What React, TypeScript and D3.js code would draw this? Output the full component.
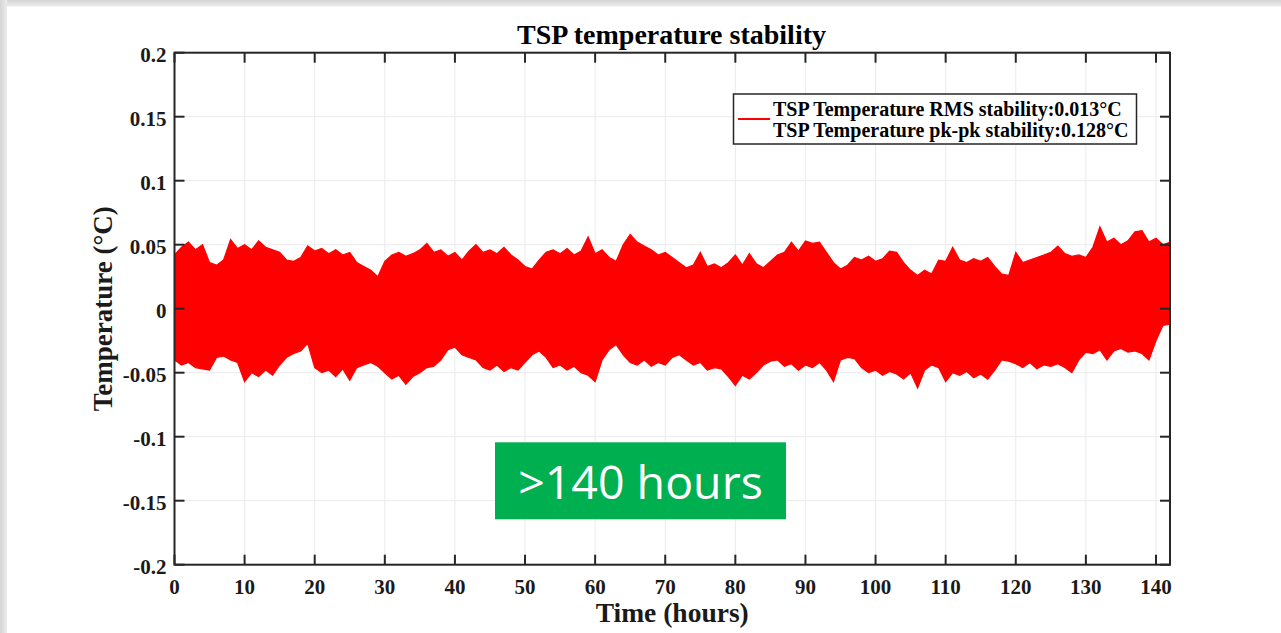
import React from "react";
import * as d3 from "d3";

// Envelope of the temperature signal, one reading per hour (0..142 h), in °C
const upperEnvelope = [
  0.042, 0.048, 0.052, 0.046, 0.05, 0.036, 0.034, 0.038, 0.054, 0.047,
  0.05, 0.046, 0.053, 0.048, 0.046, 0.044, 0.038, 0.037, 0.04, 0.049,
  0.045, 0.047, 0.043, 0.046, 0.042, 0.044, 0.036, 0.033, 0.03, 0.025,
  0.037, 0.042, 0.044, 0.041, 0.043, 0.046, 0.051, 0.044, 0.046, 0.041,
  0.044, 0.038, 0.045, 0.05, 0.044, 0.046, 0.043, 0.048, 0.042, 0.038,
  0.033, 0.031, 0.038, 0.044, 0.046, 0.043, 0.047, 0.042, 0.045, 0.056,
  0.043, 0.046, 0.04, 0.037, 0.05, 0.058, 0.052, 0.049, 0.046, 0.042,
  0.044, 0.04, 0.036, 0.032, 0.034, 0.044, 0.033, 0.035, 0.032, 0.036,
  0.042, 0.034, 0.043, 0.035, 0.032, 0.037, 0.042, 0.044, 0.052, 0.045,
  0.053, 0.051, 0.052, 0.044, 0.036, 0.031, 0.034, 0.04, 0.038, 0.041,
  0.037, 0.039, 0.045, 0.044, 0.036, 0.03, 0.026, 0.03, 0.027, 0.038,
  0.037, 0.048, 0.038, 0.036, 0.039, 0.037, 0.04, 0.033, 0.027, 0.026,
  0.044, 0.036, 0.038, 0.04, 0.042, 0.044, 0.049, 0.043, 0.041, 0.042,
  0.04, 0.048, 0.064, 0.052, 0.055, 0.05, 0.053, 0.06, 0.061, 0.052,
  0.055, 0.05, 0.052,
];

const lowerEnvelope = [
  -0.04, -0.044, -0.042, -0.046, -0.047, -0.048, -0.038, -0.037, -0.04, -0.042,
  -0.057, -0.05, -0.053, -0.048, -0.052, -0.044, -0.038, -0.035, -0.033, -0.027,
  -0.046, -0.05, -0.048, -0.053, -0.047, -0.056, -0.046, -0.044, -0.042, -0.045,
  -0.05, -0.055, -0.052, -0.059, -0.053, -0.05, -0.046, -0.045, -0.04, -0.032,
  -0.03, -0.036, -0.038, -0.04, -0.046, -0.048, -0.044, -0.049, -0.046, -0.048,
  -0.042, -0.036, -0.033, -0.038, -0.046, -0.044, -0.048, -0.045, -0.05, -0.052,
  -0.057, -0.04, -0.032, -0.028, -0.036, -0.042, -0.044, -0.04, -0.045, -0.042,
  -0.044, -0.038, -0.036, -0.04, -0.044, -0.042, -0.048, -0.046, -0.047, -0.053,
  -0.06, -0.052, -0.055, -0.05, -0.044, -0.041, -0.04, -0.045, -0.043, -0.048,
  -0.044, -0.046, -0.042, -0.048, -0.057, -0.04, -0.038, -0.039, -0.046, -0.05,
  -0.048, -0.052, -0.049, -0.051, -0.055, -0.05, -0.062, -0.048, -0.044, -0.046,
  -0.057, -0.05, -0.052, -0.049, -0.054, -0.051, -0.055, -0.048, -0.04, -0.041,
  -0.043, -0.046, -0.042, -0.047, -0.044, -0.045, -0.043, -0.046, -0.05, -0.04,
  -0.034, -0.035, -0.032, -0.04, -0.033, -0.031, -0.034, -0.033, -0.035, -0.04,
  -0.025, -0.013, -0.012,
];

const xTicks = [0, 10, 20, 30, 40, 50, 60, 70, 80, 90, 100, 110, 120, 130, 140];
const yTicks = [0.2, 0.15, 0.1, 0.05, 0, -0.05, -0.1, -0.15, -0.2];
const yTickLabels = ["0.2", "0.15", "0.1", "0.05", "0", "-0.05", "-0.1", "-0.15", "-0.2"];

const titleText = "TSP temperature stability";
const xLabel = "Time (hours)";
const yLabel = "Temperature (°C)";
const legendLines = [
  "TSP Temperature RMS stability:0.013°C",
  "TSP Temperature pk-pk stability:0.128°C",
];
const badgeText = ">140 hours";

const W = 1281;
const H = 633;
const L = 174.5;
const R = 1170;
const T = 52.7;
const B = 564.7;

export default function App() {
  const x = d3.scaleLinear().domain([0, 142]).range([L, R]);
  const y = d3.scaleLinear().domain([-0.2, 0.2]).range([B, T]);

  const pts = upperEnvelope.map((u, i) => ({ t: i, hi: u, lo: lowerEnvelope[i] }));
  const area = d3
    .area<{ t: number; hi: number; lo: number }>()
    .x((d) => x(d.t))
    .y0((d) => y(d.lo))
    .y1((d) => y(d.hi));

  const serif = "'Liberation Serif', 'Times New Roman', serif";
  const axisColor = "#262626";

  return (
    <div style={{ position: "absolute", left: 0, top: 0, width: W, height: H }}>
      <svg width={W} height={H} style={{ display: "block" }}>
        <defs>
          <linearGradient id="topShade" x1="0" y1="0" x2="0" y2="1">
            <stop offset="0" stopColor="#d4d4d4" />
            <stop offset="1" stopColor="#ececec" />
          </linearGradient>
          <linearGradient id="leftShade" x1="0" y1="0" x2="1" y2="0">
            <stop offset="0" stopColor="#d4d4d4" />
            <stop offset="1" stopColor="#ececec" />
          </linearGradient>
          <clipPath id="plotClip">
            <rect x={L} y={T} width={R - L} height={B - T} />
          </clipPath>
        </defs>
        <rect x={0} y={0} width={W} height={H} fill="#ffffff" />
        <rect x={0} y={0} width={W} height={6.5} fill="url(#topShade)" />
        <rect x={0} y={0} width={7} height={H} fill="url(#leftShade)" />

        {/* grid */}
        {xTicks.map((t) => (
          <line key={"gx" + t} x1={x(t)} x2={x(t)} y1={T} y2={B} stroke="#ebebeb" strokeWidth={1} />
        ))}
        {yTicks.map((v) => (
          <line key={"gy" + v} x1={L} x2={R} y1={y(v)} y2={y(v)} stroke="#ebebeb" strokeWidth={1} />
        ))}

        {/* data */}
        <g clipPath="url(#plotClip)">
          <path d={area(pts) || ""} fill="#ff0000" stroke="#ff0000" strokeWidth={1.2} strokeLinejoin="miter" />
        </g>

        {/* axes box */}
        <rect x={L} y={T} width={R - L} height={B - T} fill="none" stroke={axisColor} strokeWidth={2} />
        {xTicks.map((t) => (
          <g key={"tx" + t}>
            <line x1={x(t)} x2={x(t)} y1={B} y2={B - 10} stroke={axisColor} strokeWidth={2} />
            <line x1={x(t)} x2={x(t)} y1={T} y2={T + 10} stroke={axisColor} strokeWidth={2} />
            <text
              x={x(t)}
              y={594}
              textAnchor="middle"
              fontFamily={serif}
              fontWeight="bold"
              fontSize={21}
              fill="#1a1a1a"
            >
              {String(t)}
            </text>
          </g>
        ))}
        {yTicks.map((v, i) => (
          <g key={"ty" + v}>
            <line x1={L} x2={L + 10} y1={y(v)} y2={y(v)} stroke={axisColor} strokeWidth={2} />
            <line x1={R} x2={R - 10} y1={y(v)} y2={y(v)} stroke={axisColor} strokeWidth={2} />
            <text
              x={166.5}
              y={y(v) + 9}
              textAnchor="end"
              fontFamily={serif}
              fontWeight="bold"
              fontSize={21}
              fill="#1a1a1a"
            >
              {yTickLabels[i]}
            </text>
          </g>
        ))}

        {/* title and labels */}
        <text x={671.5} y={44} textAnchor="middle" fontFamily={serif} fontWeight="bold" fontSize={28} fill="#000">
          {titleText}
        </text>
        <text x={(L + R) / 2} y={622} textAnchor="middle" fontFamily={serif} fontWeight="bold" fontSize={27.5} fill="#1a1a1a">
          {xLabel}
        </text>
        <text
          transform={`translate(111.5, ${y(0)}) rotate(-90)`}
          textAnchor="middle"
          fontFamily={serif}
          fontWeight="bold"
          fontSize={27}
          fill="#1a1a1a"
        >
          {yLabel}
        </text>

        {/* legend */}
        <rect x={733.5} y={94} width={403} height={50} fill="#ffffff" stroke={axisColor} strokeWidth={1.5} />
        <line x1={738} x2={770} y1={119} y2={119} stroke="#ff0000" strokeWidth={2} />
        {legendLines.map((s, i) => (
          <text key={s} x={773} y={116 + i * 21} fontFamily={serif} fontWeight="bold" fontSize={20} fill="#000">
            {s}
          </text>
        ))}

        {/* badge */}
        <rect x={495} y={442.3} width={291} height={77} fill="#00b050" />
        <text
          x={640.5}
          y={498.5}
          textAnchor="middle"
          fontFamily="'Open Sans', 'Noto Sans', sans-serif"
          fontSize={46.5}
          fill="#ffffff"
        >
          {badgeText}
        </text>
      </svg>
    </div>
  );
}
